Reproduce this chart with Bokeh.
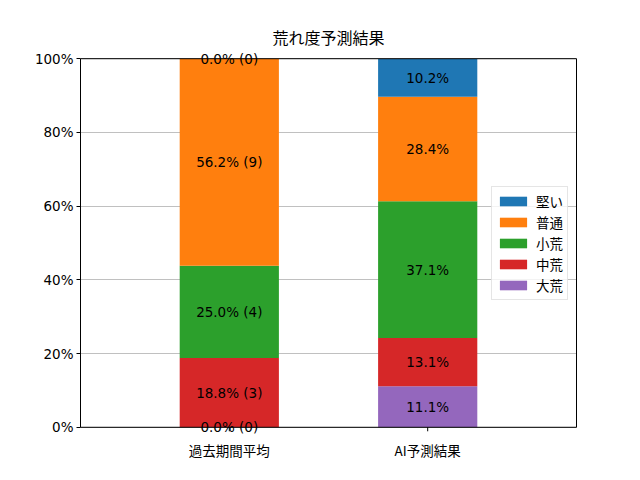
import math
from bokeh.plotting import figure
from bokeh.models import (Legend, LegendItem, FixedTicker, PrintfTickFormatter,
                          Range1d, Label, LinearAxis, Span)
from bokeh.embed import file_html
from bokeh.resources import INLINE

categories = ["過去期間平均", "AI予測結果"]
levels = ["大荒", "中荒", "小荒", "普通", "堅い"]  # bottom -> top
colors = ["#9467bd", "#d62728", "#2ca02c", "#ff7f0e", "#1f77b4"]
past_pct = [0.0, 18.8, 25.0, 56.2, 0.0]
past_count = [0, 3, 4, 9, 0]
ai_pct = [11.1, 13.1, 37.1, 28.4, 10.2]
y_ticks = [0, 20, 40, 60, 80, 100]

FONT = "Noto Sans CJK JP"
NUMFONT = "DejaVu Sans"
FS = "13.5px"
Y0, Y1 = 0, 100      # visible axes box
PAD = 2.5            # extra frame room so labels on the box edges are not clipped

p = figure(width=624, height=464, output_backend="svg", toolbar_location=None,
           x_range=Range1d(-0.75, 1.75), y_range=Range1d(Y0 - PAD, Y1 + PAD),
           min_border_left=80, min_border_right=48, min_border_top=49,
           min_border_bottom=28, title="荒れ度予測結果")
p.title.align = "center"
p.title.text_font = FONT
p.title.text_font_size = "16px"
p.title.text_font_style = "normal"
p.title.text_color = "black"
p.title.standoff = 1

p.outline_line_color = None

xs = list(range(len(categories)))
# x tick marks at y = 0 (upper half is hidden under the bars)
p.scatter(x=xs, y=[Y0] * len(xs), marker="dash", size=8, angle=math.pi / 2,
          line_color="black", line_width=1)

series = [past_pct, ai_pct]
bottoms = [0.0 for _ in categories]
renderers = []
for i, lev in enumerate(levels):
    vals = [series[c][i] for c in range(len(categories))]
    tops = [bottoms[c] + vals[c] for c in range(len(categories))]
    r = p.vbar(x=xs, width=0.5, bottom=list(bottoms), top=tops,
               fill_color=colors[i], line_color=None)
    renderers.append(r)
    bottoms = tops

# top and bottom edges of the axes box
p.add_layout(Span(location=Y1, dimension="width", line_color="black",
                  line_width=1, level="overlay"))
p.add_layout(Span(location=Y0, dimension="width", line_color="black",
                  line_width=1, level="overlay"))

bottoms = [0.0 for _ in categories]
for i, lev in enumerate(levels):
    vals = [series[c][i] for c in range(len(categories))]
    for c in range(len(categories)):
        if c == 0:
            t = f"{vals[c]:.1f}% ({past_count[i]})"
        else:
            t = f"{vals[c]:.1f}%"
        p.add_layout(Label(x=xs[c], y=bottoms[c] + vals[c] / 2, text=t,
                           text_align="center", text_baseline="middle",
                           text_font=NUMFONT, text_font_size=FS,
                           text_color="black", level="overlay"))
    bottoms = [bottoms[c] + vals[c] for c in range(len(categories))]

p.xaxis.ticker = FixedTicker(ticks=xs)
p.xaxis.major_label_overrides = {x: c for x, c in zip(xs, categories)}
p.yaxis.ticker = FixedTicker(ticks=y_ticks)
p.yaxis.formatter = PrintfTickFormatter(format="%d%%")
p.yaxis.bounds = (Y0, Y1)
for ax in (p.xaxis, p.yaxis):
    ax.major_label_text_font_size = FS
    ax.major_label_text_color = "black"
    ax.axis_line_color = "black"
    ax.major_tick_line_color = "black"
    ax.minor_tick_line_color = None
    ax.major_label_standoff = 3
p.yaxis.major_tick_out = 4
p.yaxis.major_tick_in = 0
# x axis sits at the (padded) frame bottom; labels placed just under y = 0
p.xaxis.axis_line_color = None
p.xaxis.major_tick_line_color = None
p.xaxis.major_tick_in = 9
p.xaxis.major_tick_out = -5
p.xaxis.major_label_text_font = FONT
p.yaxis.major_label_text_font = NUMFONT

# right edge of the box
right = LinearAxis(bounds=(Y0, Y1), ticker=FixedTicker(ticks=[]),
                   axis_line_color="black", major_tick_line_color=None,
                   minor_tick_line_color=None, major_label_text_font_size="0px")
p.add_layout(right, "right")

p.xgrid.visible = False
p.ygrid.ticker = FixedTicker(ticks=y_ticks)
p.ygrid.grid_line_color = "#b0b0b0"
p.ygrid.grid_line_width = 0.8

items = [LegendItem(label=levels[i], renderers=[renderers[i]])
         for i in reversed(range(len(levels)))]
legend = Legend(items=items, location="center_right")
legend.margin = 8
legend.padding = 4
legend.spacing = 1
legend.glyph_width = 34
legend.glyph_height = 12
legend.label_height = 12
legend.label_standoff = 6
legend.label_text_font = FONT
legend.label_text_font_size = FS
legend.label_text_color = "black"
legend.border_line_color = "#cccccc"
legend.background_fill_alpha = 0.8
p.add_layout(legend)

open("out.html", "w").write(file_html(p, INLINE))
